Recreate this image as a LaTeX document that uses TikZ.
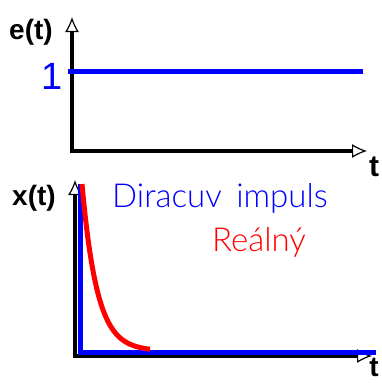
\documentclass[tikz,border=0pt]{standalone}
\usepackage{fontspec}
\setmainfont{Liberation Sans}
\newfontfamily\lightfont{Lato Light}
\usetikzlibrary{arrows.meta}

\begin{document}
\begin{tikzpicture}[x=1pt,y=-1pt,
  axis/.style={line width=4pt,-{Latex[open,length=15pt,width=14pt,line width=1.2pt]}},
  sig/.style={line width=5pt},
  axlabel/.style={font=\fontsize{28}{28}\selectfont\bfseries},
  sigtext/.style={font=\fontsize{33}{33}\lightfont}]
  \useasboundingbox (0,0) rectangle (382,383);
  % top: step input
  \draw[axis] (72,153) -- (72,17);
  \draw[axis] (70,151) -- (367,151);
  \draw[sig,blue] (68,71) -- (363,71);
  \node[axlabel] (e) at (31,32) {e(t)};
  \node[font=\fontsize{38}{38}\selectfont,blue] (one) at (52,76) {1};
  \node[axlabel,font=\fontsize{30}{30}\selectfont\bfseries] (t1) at (374,167) {t};
  % bottom: impulse response
  \draw[axis] (75,358) -- (75,180);
  \draw[axis] (73,356) -- (372,356);
  \draw[sig,blue] (80,184) -- (80,352) -- (376,352);
  \draw[sig,red] plot[domain=0:68,samples=60] ({82+\x},{351-167*exp(-\x/15)});
  \node[axlabel] (x) at (34,198) {x(t)};
  \node[sigtext,blue] (dirac) at (220,198) {Diracuv\, impuls};
  \node[sigtext,red] (real) at (259,242) {Reálný};
  \node[axlabel,font=\fontsize{28}{28}\selectfont\bfseries] (t2) at (374,367) {t};
\end{tikzpicture}
\end{document}
